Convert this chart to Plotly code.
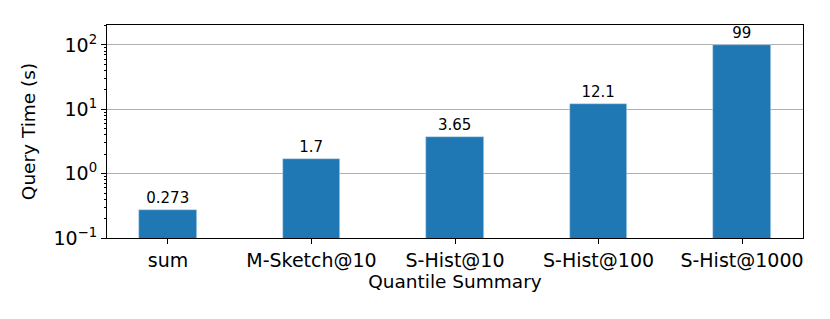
import plotly.graph_objects as go

categories = ["sum", "M-Sketch@10", "S-Hist@10", "S-Hist@100", "S-Hist@1000"]
query_times = [0.273, 1.7, 3.65, 12.1, 99]
bar_labels = ["0.273", "1.7", "3.65", "12.1", "99"]
major_ticks = [0.1, 1, 10, 100]
major_tick_labels = ["10<sup>−1</sup>", "10<sup>0</sup>", "10<sup>1</sup>", "10<sup>2</sup>"]
minor_ticks = [m * d for d in [0.1, 1, 10, 100] for m in range(2, 10)]

font_family = "DejaVu Sans, sans-serif"

fig = go.Figure(go.Bar(
    x=list(range(len(categories))),
    y=query_times,
    width=0.4,
    marker=dict(color="#1f77b4", line=dict(color="#c8dcec", width=0.6)),
    text=bar_labels,
    textposition="outside",
    textfont=dict(size=15, color="black", family=font_family),
    cliponaxis=False,
))

fig.update_layout(
    width=830, height=319,
    margin=dict(l=107, r=27, t=25, b=81, autoexpand=False),
    paper_bgcolor="white", plot_bgcolor="white",
    showlegend=False,
    font=dict(family=font_family, color="black"),
    bargap=0,
)

fig.update_xaxes(
    automargin=False,
    range=[-0.425, 4.425],
    tickvals=list(range(len(categories))),
    ticktext=categories,
    ticks="outside", ticklen=5, tickwidth=1, tickcolor="black",
    tickfont=dict(size=19),
    showline=True, linecolor="black", linewidth=1, mirror=True,
    showgrid=False, zeroline=False,
    title=dict(text="Quantile Summary", font=dict(size=18.5), standoff=5),
)

fig.update_yaxes(
    automargin=False,
    type="log",
    range=[-1, 2.31],
    tickvals=major_ticks,
    ticktext=major_tick_labels,
    ticks="outside", ticklen=5, tickwidth=1, tickcolor="black",
    tickfont=dict(size=19),
    showline=True, linecolor="black", linewidth=1, mirror=True,
    showgrid=True, gridcolor="#b0b0b0", gridwidth=1,
    zeroline=False,
    minor=dict(tickmode="array", tickvals=minor_ticks, ticks="outside",
               ticklen=2.5, tickwidth=0.8, tickcolor="black", showgrid=False),
    title=dict(text="Query Time (s)", font=dict(size=18.5), standoff=12),
)

fig.write_html(
    "out.html",
    config={"displayModeBar": False},
    post_script="document.body.style.margin='0';document.body.style.overflow='hidden';",
)
